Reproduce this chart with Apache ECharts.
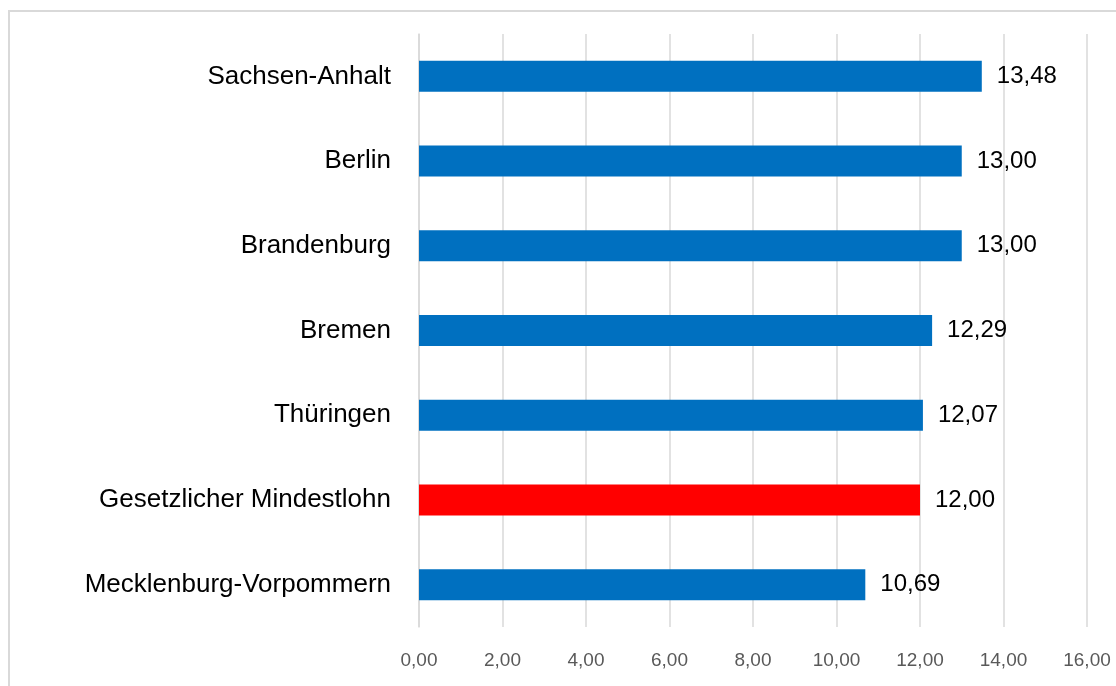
<!DOCTYPE html>
<html>
<head>
<meta charset="utf-8">
<script src="https://cdn.jsdelivr.net/npm/echarts@6/dist/echarts.min.js"></script>
<style>
  html, body { margin: 0; padding: 0; background: #fff; }
  #chart { width: 1116px; height: 686px; }
</style>
</head>
<body>
<div id="chart"></div>
<script>
// Kategorien von oben nach unten
var categories = ['Sachsen-Anhalt', 'Berlin', 'Brandenburg', 'Bremen', 'Thüringen', 'Gesetzlicher Mindestlohn', 'Mecklenburg-Vorpommern'];
var values = [13.48, 13.00, 13.00, 12.29, 12.07, 12.00, 10.69];
var highlight = 'Gesetzlicher Mindestlohn';

var blue = '#0070C0';
var red = '#FF0000';
var font = '"Liberation Sans", Arial, sans-serif';

function fmt(v) {
  return v.toFixed(2).replace('.', ',');
}

var chart = echarts.init(document.getElementById('chart'));
chart.setOption({
  animation: false,
  backgroundColor: '#fff',
  graphic: [{
    type: 'rect',
    shape: { x: 9, y: 11, width: 1300, height: 900 },
    style: { fill: 'none', stroke: '#d9d9d9', lineWidth: 2 },
    silent: true
  }],
  grid: { left: 419, right: 29, top: 34, bottom: 59 },
  xAxis: {
    type: 'value',
    min: 0,
    max: 16,
    interval: 2,
    axisLine: { show: false },
    axisTick: { show: false },
    splitLine: { lineStyle: { color: '#d9d9d9', width: 1.5 } },
    axisLabel: {
      color: '#595959',
      fontFamily: font,
      fontSize: 19,
      margin: 24,
      formatter: function (v) { return fmt(v); }
    }
  },
  yAxis: {
    type: 'category',
    inverse: true,
    data: categories,
    axisLine: { show: true, lineStyle: { color: '#d9d9d9', width: 1.5 } },
    axisTick: { show: false },
    axisLabel: {
      color: '#000',
      fontFamily: font,
      fontSize: 26,
      margin: 28
    }
  },
  series: [{
    type: 'bar',
    barWidth: 31,
    data: values.map(function (v, i) {
      return {
        value: v,
        itemStyle: { color: categories[i] === highlight ? red : blue }
      };
    }),
    label: {
      show: true,
      position: 'right',
      distance: 15,
      color: '#000',
      fontFamily: font,
      fontSize: 24,
      formatter: function (p) { return fmt(p.value); }
    }
  }]
});
</script>
</body>
</html>
